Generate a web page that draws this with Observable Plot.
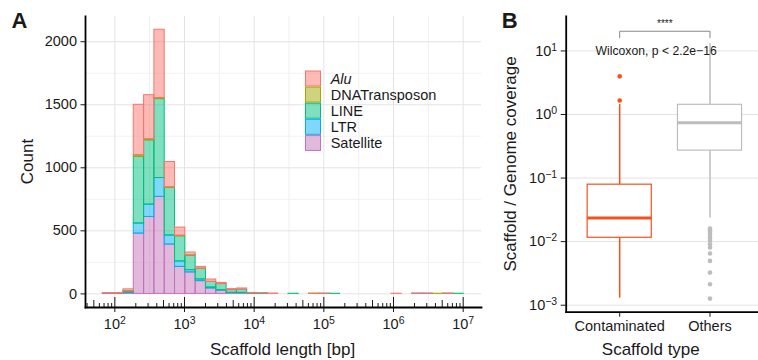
<!DOCTYPE html>
<html><head><meta charset="utf-8">
<script src="https://cdn.jsdelivr.net/npm/d3@7"></script>
<script src="https://cdn.jsdelivr.net/npm/@observablehq/plot@0.6"></script>
<style>
html,body{margin:0;padding:0;background:#fff;overflow:hidden}
#chart{position:relative;width:758px;height:360px;overflow:hidden;background:#fff}
#chart svg{position:absolute;top:0}
</style></head><body><div id="chart"></div>
<script>
// ---------- Panel A data ----------
const repeatTypes = ["Alu","DNATransposon","LINE","LTR","Satellite"];
const repeatColors = ["#F8766D","#A3A500","#00BF7D","#00B0F6","#C373B9"];
const binStartLog10 = 1.828;
const binWidthLog10 = 0.148;
const satellite = [1,1,8,478,610,769,391,214,170,101,43,26,7,6,2,0,0,0,0,0,0,0,0,0,0,0,0,0,0,0,0,0,0,0,0];
const ltr       = [1,0,3,80,98,150,72,43,18,13,7,3,1,2,0,0,0,0,0,0,0,0,0,0,0,0,0,0,0,0,1,1,0,0,0];
const line      = [0,1,10,530,510,626,377,200,116,84,45,49,22,25,3,4,0,0,1,0,0,1,1,0,0,0,0,0,0,0,0,0,0,1,1];
const dnaTransposon = [0,0,1,12,8,8,5,4,3,2,0,1,0,0,0,0,0,0,0,0,1,0,0,0,0,0,0,0,0,0,0,0,1,0,0];
const alu       = [4,4,14,400,350,542,201,65,21,14,19,8,8,10,3,1,3,0,0,0,1,1,0,0,0,0,0,0,1,0,2,2,0,2,0];
const countTicks = [0,500,1000,1500,2000];
const countMinorTicks = [250,750,1250,1750];
const lengthTicks = [1e2,1e3,1e4,1e5,1e6,1e7];
const lengthMinorTicks = [10**2.5,10**3.5,10**4.5,10**5.5,10**6.5];

// ---------- Panel B data ----------
const scaffoldTypes = ["Contaminated","Others"];
const scaffoldColors = ["#F4511E","#BDBDBD"];
const whiskerLow  = [0.00129, 0.0235];
const q1          = [0.0115, 0.27];
const medians     = [0.0235, 0.74];
const q3          = [0.0787, 1.42];
const whiskerHigh = [1.44, 13];
const contaminatedOutliers = [1.66, 3.98];
const othersOutliers = [0.0161,0.0151,0.0143,0.0134,0.0123,0.0113,0.0103,0.0091,0.0081,0.0065,0.00498,0.00326,0.00214,0.00127];
const coverageTicks = [1e-3,1e-2,1e-1,1,10];
const bracketY = [16.1, 20.4];

const FONT = "Liberation Sans, Arial, Helvetica, sans-serif";
const TXT = "#1a1a1a";

// rows for stacked histogram (bottom to top)
const byType = {Satellite: satellite, LTR: ltr, LINE: line, DNATransposon: dnaTransposon, Alu: alu};
const stackOrder = ["Satellite","LTR","LINE","DNATransposon","Alu"];
const rows = [];
stackOrder.forEach(t => byType[t].forEach((n, i) => {
  if (n > 0) rows.push({type: t, n,
    x1: 10 ** (binStartLog10 + i * binWidthLog10),
    x2: 10 ** (binStartLog10 + (i + 1) * binWidthLog10)});
}));

const xMin = 10 ** 1.579, xMax = 10 ** 7.263;
const longLog = lengthTicks;
const midLog = [], shortLog = [];
for (let k = 1; k <= 7; k++) for (let m = 2; m <= 9; m++) {
  const v = m * 10 ** k;
  if (v < xMin || v > xMax) continue;
  (m === 5 ? midLog : shortLog).push(v);
}
const expFmt = d => "10^" + Math.round(Math.log10(d));
const blank = () => "";

const plotA = Plot.plot({
  width: 490, height: 360,
  marginLeft: 85, marginRight: 9, marginTop: 16, marginBottom: 53,
  style: {fontFamily: FONT, fontSize: "14.5px", color: TXT, background: "transparent"},
  x: {type: "log", domain: [xMin, xMax], label: null},
  y: {domain: [-108, 2200], label: null},
  color: {domain: repeatTypes, range: repeatColors},
  marks: [
    Plot.ruleY(countMinorTicks, {stroke: "#f2f2f2"}),
    Plot.ruleX(lengthMinorTicks, {stroke: "#efefef"}),
    Plot.ruleY(countTicks, {stroke: "#e3e3e3"}),
    Plot.ruleX(lengthTicks, {stroke: "#e3e3e3"}),
    Plot.rectY(rows, {x1: "x1", x2: "x2", y: "n", fill: "type", stroke: "type", fillOpacity: 0.5, strokeWidth: 1}),
    Plot.axisY({ticks: countTicks, tickSize: 4.5, tickPadding: 4, tickFormat: d => String(d)}),
    Plot.axisX({ticks: lengthTicks, tickSize: 5, tickPadding: 6, tickFormat: expFmt}),
    Plot.axisX({ticks: longLog, tickSize: -10, tickFormat: blank}),
    Plot.axisX({ticks: midLog, tickSize: -7, tickFormat: blank}),
    Plot.axisX({ticks: shortLog, tickSize: -4, tickFormat: blank}),
    Plot.frame({anchor: "left", strokeWidth: 1.8, stroke: "black"}),
    Plot.frame({anchor: "bottom", strokeWidth: 1.8, stroke: "black"})
  ]
});

const boxRows = scaffoldTypes.map((c, i) => ({cat: c, lo: whiskerLow[i], q1: q1[i], med: medians[i], q3: q3[i], hi: whiskerHigh[i]}));
const outRows = [
  ...contaminatedOutliers.map(v => ({cat: "Contaminated", v})),
  ...othersOutliers.map(v => ({cat: "Others", v}))
];
const bracket = [
  {cat: "Contaminated", y: bracketY[0]}, {cat: "Contaminated", y: bracketY[1]},
  {cat: "Others", y: bracketY[1]}, {cat: "Others", y: bracketY[0]}
];

const plotB = Plot.plot({
  width: 268, height: 360,
  marginLeft: 75.7, marginRight: 0, marginTop: 16, marginBottom: 48.3,
  style: {fontFamily: FONT, fontSize: "14.5px", color: TXT, background: "transparent"},
  x: {type: "band", domain: scaffoldTypes, range: [75.7, 273], paddingInner: 0.29, paddingOuter: 0.2375, round: false, label: null},
  y: {type: "log", domain: [10 ** -3.11, 10 ** 1.5415], label: null},
  color: {domain: scaffoldTypes, range: scaffoldColors},
  marks: [
    Plot.ruleY(coverageTicks, {stroke: "#e3e3e3"}),
    Plot.ruleX(boxRows, {x: "cat", y1: "lo", y2: "hi", stroke: "cat", strokeWidth: 1.5}),
    Plot.barY(boxRows, {x: "cat", y1: "q1", y2: "q3", fill: "white", stroke: "cat", strokeWidth: 1.2}),
    Plot.tickY(boxRows, {x: "cat", y: "med", stroke: "cat", strokeWidth: 3}),
    Plot.dot(outRows, {x: "cat", y: "v", fill: "cat", r: 2.3}),
    Plot.line(bracket, {x: "cat", y: "y", stroke: "#7a7a7a", strokeWidth: 0.9}),
    Plot.text(["****"], {x: () => "Others", y: () => 27.2, dx: -45.15, fontSize: 10, fill: "#222222"}),
    Plot.text(["Wilcoxon, p < 2.2e\u221216"], {x: () => "Contaminated", y: () => 9.9, dx: -24.2, textAnchor: "start", fontSize: 12.2, fill: TXT}),
    Plot.axisY({ticks: coverageTicks, tickSize: 5, tickPadding: 4, tickFormat: expFmt}),
    Plot.axisX({tickSize: 5, tickPadding: 4}),
    Plot.frame({anchor: "left", strokeWidth: 1.8, stroke: "black"}),
    Plot.frame({anchor: "bottom", strokeWidth: 1.8, stroke: "black"})
  ]
});

function superscripts(svg) {
  svg.querySelectorAll("text").forEach(t => {
    const m = /^10\^(-?\d+)$/.exec(t.textContent);
    if (!m) return;
    t.textContent = "10";
    const ts = document.createElementNS("http://www.w3.org/2000/svg", "tspan");
    ts.setAttribute("dy", "-5");
    ts.setAttribute("font-size", "10.5");
    ts.textContent = m[1].replace("-", "\u2212");
    t.appendChild(ts);
  });
}
superscripts(plotA);
superscripts(plotB);

const chart = document.getElementById("chart");
plotA.style.left = "0px";
plotB.style.left = "490px";
chart.appendChild(plotA);
chart.appendChild(plotB);

// Legend, titles, panel tags
const sa = d3.select(plotA), sb = d3.select(plotB);
const lg = sa.append("g").attr("font-family", FONT).attr("font-size", 14.5).attr("fill", TXT).attr("text-anchor", "start");
repeatTypes.forEach((t, i) => {
  const y0 = 71 + i * 16.1;
  lg.append("rect").attr("x", 305.5).attr("y", y0).attr("width", 15).attr("height", 15)
    .attr("fill", repeatColors[i]).attr("fill-opacity", 0.5).attr("stroke", repeatColors[i]).attr("stroke-width", 1);
  lg.append("text").attr("x", 330.7).attr("y", y0 + 7.5 + 5.2).attr("text-anchor", "start")
    .attr("font-style", t === "Alu" ? "italic" : null).text(t);
});

function addText(sel, x, y, txt, opts = {}) {
  const t = sel.append("text").attr("x", x).attr("y", y).attr("font-family", FONT)
    .attr("font-size", opts.size || 17).attr("fill", TXT)
    .attr("text-anchor", opts.anchor || "middle").text(txt);
  if (opts.bold) t.attr("font-weight", "bold");
  if (opts.rotate) t.attr("transform", `rotate(-90 ${x} ${y})`);
  return t;
}
addText(sa, 282.5, 355, "Scaffold length [bp]");
addText(sa, 33.3, 161.5, "Count", {rotate: true});
addText(sa, 11.5, 28.3, "A", {size: 22, bold: true, anchor: "start"});
addText(sb, 160.8, 355, "Scaffold type");
addText(sb, 26.5, 163.9, "Scaffold / Genome coverage", {rotate: true});
addText(sb, 11.7, 28.3, "B", {size: 22, bold: true, anchor: "start"});
</script>
</body></html>
